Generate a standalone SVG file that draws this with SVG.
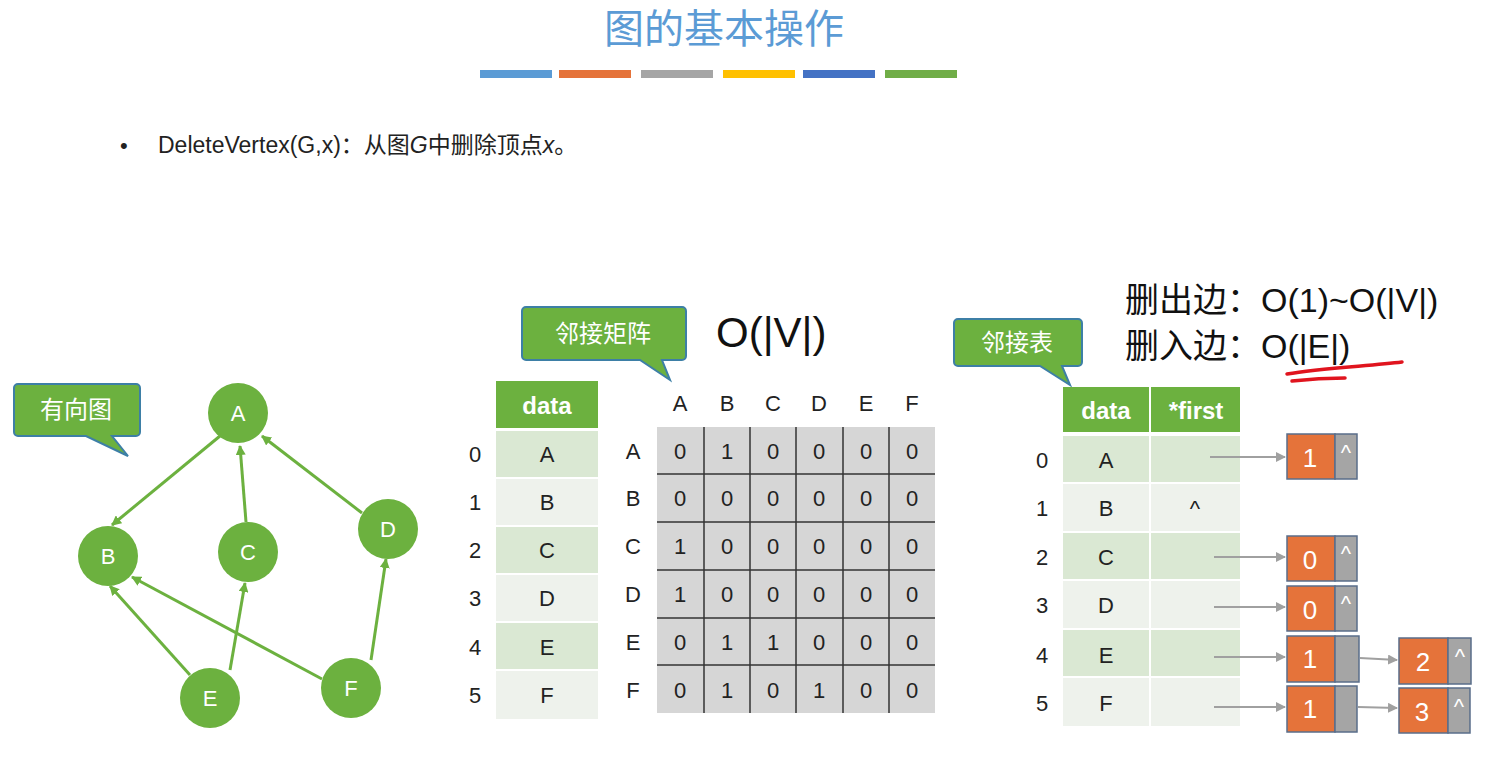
<svg xmlns="http://www.w3.org/2000/svg" width="1493" height="775" viewBox="0 0 1493 775">
<style>
text{font-family:"Liberation Sans","Noto Sans CJK SC",sans-serif;}
.v{fill:#6cb13f;}
.vt{fill:#fff;font-size:22px;text-anchor:middle;dominant-baseline:central;}
.e{stroke:#6cb13f;stroke-width:3;fill:none;marker-end:url(#ga);}
.co{fill:#6cb13f;stroke:#3d7fa6;stroke-width:2;}
.ct{fill:#fff;font-size:24px;text-anchor:middle;dominant-baseline:central;}
.lab{font-size:22px;fill:#222;text-anchor:middle;dominant-baseline:central;}
.hd{fill:#fff;font-size:24px;font-weight:bold;text-anchor:middle;dominant-baseline:central;}
.r1{fill:#dae8d3;} .r2{fill:#eef2ec;}
.or{fill:#e5733a;stroke:#5a6e8a;stroke-width:1.5;}
.gr{fill:#a5a5a5;stroke:#5a6e8a;stroke-width:1.5;}
.nt{fill:#fff;font-size:26px;text-anchor:middle;dominant-baseline:central;}
.ar{stroke:#a0a0a0;stroke-width:2;fill:none;marker-end:url(#gy);}
.big{font-size:36px;fill:#111;}
</style>
<defs>
<marker id="ga" markerWidth="10" markerHeight="10" refX="9" refY="5" orient="auto" markerUnits="userSpaceOnUse"><path d="M0,0L10,5L0,10z" fill="#6cb13f"/></marker>
<marker id="gy" markerWidth="10" markerHeight="10" refX="9" refY="5" orient="auto" markerUnits="userSpaceOnUse"><path d="M0,0L10,5L0,10z" fill="#a0a0a0"/></marker>
</defs>
<rect width="1493" height="775" fill="#fff"/>
<text x="724" y="43" font-size="40" fill="#5b9bd5" text-anchor="middle">图的基本操作</text>
<g>
<rect x="480" y="70" width="72" height="8" fill="#5b9bd5"/>
<rect x="559" y="70" width="72" height="8" fill="#e5733a"/>
<rect x="641" y="70" width="72" height="8" fill="#a5a5a5"/>
<rect x="723" y="70" width="72" height="8" fill="#ffc000"/>
<rect x="803" y="70" width="72" height="8" fill="#4472c4"/>
<rect x="885" y="70" width="72" height="8" fill="#70ad47"/>
</g>
<text x="120" y="153" font-size="22" fill="#222">•</text>
<text x="158" y="153" font-size="23" fill="#222">DeleteVertex(G,x)：从图<tspan font-style="italic">G</tspan>中删除顶点<tspan font-style="italic">x</tspan>。</text>

<g id="callout-directed"><path class="co" d="M18,384H136a4,4 0 0 1 4,4V432a4,4 0 0 1-4,4H112L128,456L86,436H18a4,4 0 0 1-4-4V388a4,4 0 0 1 4-4z"/><text class="ct" x="76" y="409">有向图</text></g>
<g id="callout-matrix"><path class="co" d="M526,307H682a4,4 0 0 1 4,4V356a4,4 0 0 1-4,4H662L670,380L640,360H526a4,4 0 0 1-4-4V311a4,4 0 0 1 4-4z"/><text class="ct" x="603" y="333">邻接矩阵</text></g>
<g id="callout-list"><path class="co" d="M958,319H1078a4,4 0 0 1 4,4V362a4,4 0 0 1-4,4H1062L1070,385L1040,366H958a4,4 0 0 1-4-4V323a4,4 0 0 1 4-4z"/><text class="ct" x="1017" y="342">邻接表</text></g>

<g id="connectors">
<line class="e" x1="220" y1="436" x2="112" y2="525"/>
<line class="e" x1="246" y1="522" x2="240" y2="446"/>
<line class="e" x1="362" y1="513" x2="262" y2="436"/>
<line class="e" x1="190" y1="675" x2="110" y2="586"/>
<line class="e" x1="230" y1="670" x2="245" y2="583"/>
<line class="e" x1="322" y1="679" x2="132" y2="577"/>
<line class="e" x1="371" y1="660" x2="386" y2="559"/>
</g>
<g id="A"><circle class="v" cx="238" cy="413" r="30"/><text class="vt" x="238" y="413">A</text></g>
<g id="B"><circle class="v" cx="108" cy="556" r="30"/><text class="vt" x="108" y="556">B</text></g>
<g id="C"><circle class="v" cx="248" cy="552" r="30"/><text class="vt" x="248" y="552">C</text></g>
<g id="D"><circle class="v" cx="388" cy="529" r="30"/><text class="vt" x="388" y="529">D</text></g>
<g id="E"><circle class="v" cx="210" cy="698" r="30"/><text class="vt" x="210" y="698">E</text></g>
<g id="F"><circle class="v" cx="351" cy="688" r="30"/><text class="vt" x="351" y="688">F</text></g>

<g id="vertex-table">
<rect x="496" y="381" width="102" height="47" fill="#6cb13f"/><text class="hd" x="547" y="405">data</text>
<rect class="r1" x="496" y="431" width="102" height="46"/><rect class="r2" x="496" y="479" width="102" height="46"/>
<rect class="r1" x="496" y="527" width="102" height="46"/><rect class="r2" x="496" y="575" width="102" height="46"/>
<rect class="r1" x="496" y="623" width="102" height="46"/><rect class="r2" x="496" y="671" width="102" height="48"/>
<text class="lab" x="547" y="454">A</text><text class="lab" x="547" y="502">B</text><text class="lab" x="547" y="550">C</text><text class="lab" x="547" y="598">D</text><text class="lab" x="547" y="647">E</text><text class="lab" x="547" y="695">F</text>
<text class="lab" x="475" y="454">0</text><text class="lab" x="475" y="502">1</text><text class="lab" x="475" y="550">2</text><text class="lab" x="475" y="598">3</text><text class="lab" x="475" y="647">4</text><text class="lab" x="475" y="695">5</text>
</g>

<text x="716" y="347" font-size="42" fill="#111">O(|V|)</text>
<g id="matrix">
<rect x="657" y="427" width="278" height="286" fill="#d6d6d6"/>
<g stroke="#333" stroke-width="1.5">
<line x1="704" y1="427" x2="704" y2="713"/><line x1="750" y1="427" x2="750" y2="713"/><line x1="796" y1="427" x2="796" y2="713"/><line x1="843" y1="427" x2="843" y2="713"/><line x1="889" y1="427" x2="889" y2="713"/>
<line x1="657" y1="474" x2="935" y2="474"/><line x1="657" y1="522" x2="935" y2="522"/><line x1="657" y1="570" x2="935" y2="570"/><line x1="657" y1="618" x2="935" y2="618"/><line x1="657" y1="665" x2="935" y2="665"/>
</g>
<g class="lab">
<text class="lab" x="680" y="403">A</text><text class="lab" x="727" y="403">B</text><text class="lab" x="773" y="403">C</text><text class="lab" x="819" y="403">D</text><text class="lab" x="866" y="403">E</text><text class="lab" x="912" y="403">F</text>
<text class="lab" x="633" y="451">A</text><text class="lab" x="633" y="498">B</text><text class="lab" x="633" y="546">C</text><text class="lab" x="633" y="594">D</text><text class="lab" x="633" y="642">E</text><text class="lab" x="633" y="690">F</text>
</g>
<g>
<text class="lab" x="680" y="451">0</text><text class="lab" x="727" y="451">1</text><text class="lab" x="773" y="451">0</text><text class="lab" x="819" y="451">0</text><text class="lab" x="866" y="451">0</text><text class="lab" x="912" y="451">0</text>
<text class="lab" x="680" y="498">0</text><text class="lab" x="727" y="498">0</text><text class="lab" x="773" y="498">0</text><text class="lab" x="819" y="498">0</text><text class="lab" x="866" y="498">0</text><text class="lab" x="912" y="498">0</text>
<text class="lab" x="680" y="546">1</text><text class="lab" x="727" y="546">0</text><text class="lab" x="773" y="546">0</text><text class="lab" x="819" y="546">0</text><text class="lab" x="866" y="546">0</text><text class="lab" x="912" y="546">0</text>
<text class="lab" x="680" y="594">1</text><text class="lab" x="727" y="594">0</text><text class="lab" x="773" y="594">0</text><text class="lab" x="819" y="594">0</text><text class="lab" x="866" y="594">0</text><text class="lab" x="912" y="594">0</text>
<text class="lab" x="680" y="642">0</text><text class="lab" x="727" y="642">1</text><text class="lab" x="773" y="642">1</text><text class="lab" x="819" y="642">0</text><text class="lab" x="866" y="642">0</text><text class="lab" x="912" y="642">0</text>
<text class="lab" x="680" y="690">0</text><text class="lab" x="727" y="690">1</text><text class="lab" x="773" y="690">0</text><text class="lab" x="819" y="690">1</text><text class="lab" x="866" y="690">0</text><text class="lab" x="912" y="690">0</text>
</g>
</g>

<text x="1125" y="312" font-size="34" fill="#111">删出边：O(1)~O(|V|)</text>
<text x="1125" y="358" font-size="34" fill="#111">删入边：O(|E|)</text>
<path d="M1287,374 C1320,368 1370,366 1402,362 M1292,381 C1310,379 1330,378 1345,378" stroke="#e0141e" stroke-width="3.5" fill="none" stroke-linecap="round"/>

<g id="list-table">
<rect x="1063" y="387" width="86" height="45" fill="#6cb13f"/><rect x="1151" y="387" width="89" height="45" fill="#6cb13f"/>
<text class="hd" x="1106" y="410">data</text><text class="hd" x="1196" y="410">*first</text>
<g>
<rect class="r1" x="1063" y="436" width="86" height="46"/><rect class="r1" x="1151" y="436" width="89" height="46"/>
<rect class="r2" x="1063" y="484" width="86" height="47"/><rect class="r2" x="1151" y="484" width="89" height="47"/>
<rect class="r1" x="1063" y="533" width="86" height="46"/><rect class="r1" x="1151" y="533" width="89" height="46"/>
<rect class="r2" x="1063" y="581" width="86" height="47"/><rect class="r2" x="1151" y="581" width="89" height="47"/>
<rect class="r1" x="1063" y="630" width="86" height="46"/><rect class="r1" x="1151" y="630" width="89" height="46"/>
<rect class="r2" x="1063" y="678" width="86" height="48"/><rect class="r2" x="1151" y="678" width="89" height="48"/>
</g>
<text class="lab" x="1106" y="460">A</text><text class="lab" x="1106" y="508">B</text><text class="lab" x="1106" y="557">C</text><text class="lab" x="1106" y="605">D</text><text class="lab" x="1106" y="655">E</text><text class="lab" x="1106" y="703">F</text>
<text class="lab" x="1195" y="508">^</text>
<text class="lab" x="1042" y="460">0</text><text class="lab" x="1042" y="508">1</text><text class="lab" x="1042" y="557">2</text><text class="lab" x="1042" y="605">3</text><text class="lab" x="1042" y="655">4</text><text class="lab" x="1042" y="703">5</text>
</g>

<g id="connectors-list">
<line class="ar" x1="1210" y1="457" x2="1285" y2="457"/>
<line class="ar" x1="1214" y1="557" x2="1285" y2="557"/>
<line class="ar" x1="1214" y1="607" x2="1285" y2="607"/>
<line class="ar" x1="1214" y1="657" x2="1285" y2="657"/>
<line class="ar" x1="1214" y1="707" x2="1285" y2="707"/>
<line class="ar" x1="1360" y1="658" x2="1397" y2="660"/>
<line class="ar" x1="1358" y1="707" x2="1397" y2="708"/>
</g>
<g id="nodeA1"><rect class="or" x="1287" y="434" width="48" height="45"/><rect class="gr" x="1335" y="434" width="22" height="45"/><text class="nt" x="1310" y="458">1</text><text class="lab" fill="#fff" x="1346" y="452" style="fill:#fff">^</text></g>
<g id="nodeC0"><rect class="or" x="1287" y="536" width="48" height="45"/><rect class="gr" x="1335" y="536" width="22" height="45"/><text class="nt" x="1310" y="560">0</text><text class="lab" x="1346" y="553" style="fill:#fff">^</text></g>
<g id="nodeD0"><rect class="or" x="1287" y="586" width="48" height="45"/><rect class="gr" x="1335" y="586" width="22" height="45"/><text class="nt" x="1310" y="610">0</text><text class="lab" x="1346" y="603" style="fill:#fff">^</text></g>
<g id="nodeE1"><rect class="or" x="1287" y="636" width="48" height="46"/><rect class="gr" x="1335" y="636" width="24" height="46"/><text class="nt" x="1310" y="659">1</text></g>
<g id="nodeF1"><rect class="or" x="1287" y="686" width="48" height="46"/><rect class="gr" x="1335" y="686" width="22" height="46"/><text class="nt" x="1310" y="709">1</text></g>
<g id="nodeE2"><rect class="or" x="1399" y="638" width="49" height="46"/><rect class="gr" x="1448" y="638" width="23" height="46"/><text class="nt" x="1423" y="662">2</text><text class="lab" x="1460" y="656" style="fill:#fff">^</text></g>
<g id="nodeF3"><rect class="or" x="1399" y="688" width="49" height="45"/><rect class="gr" x="1448" y="688" width="22" height="45"/><text class="nt" x="1422" y="712">3</text><text class="lab" x="1459" y="706" style="fill:#fff">^</text></g>
</svg>
